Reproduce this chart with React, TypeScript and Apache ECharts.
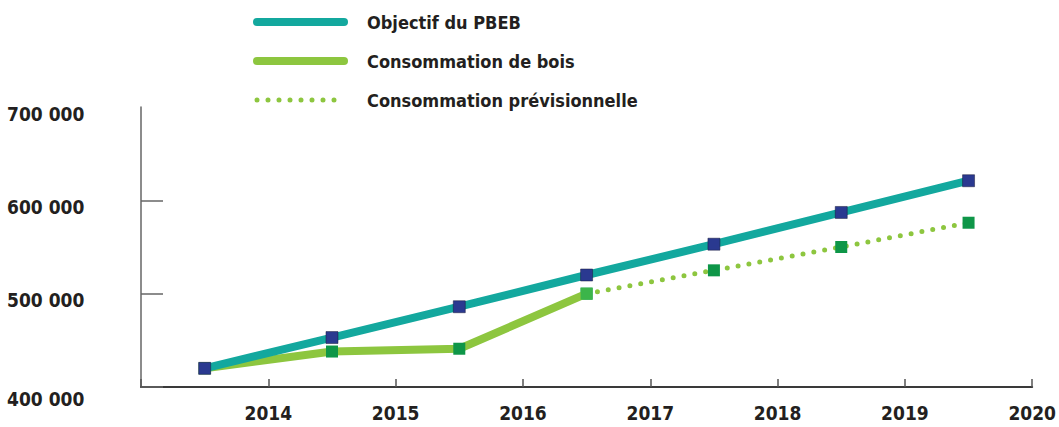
import React, { useEffect, useRef } from "react";
import * as echarts from "echarts";

const tickLabels = ["", "2014", "2015", "2016", "2017", "2018", "2019", "2020"];
const positions = [0.5, 1.5, 2.5, 3.5, 4.5, 5.5, 6.5];
const objectif = [420000, 453000, 486000, 520000, 553000, 587000, 621000];
const consommation: (number | null)[] = [420000, 438000, 441000, 500000, null, null, null];
const previsionnelle: (number | null)[] = [null, null, null, 500000, 525000, 550000, 576000];

const FONT = "'DejaVu Sans Condensed', 'Liberation Sans Narrow', sans-serif";
const TEXT = "#231f20";

export default function App() {
  const ref = useRef<HTMLDivElement>(null);
  useEffect(() => {
    const chart = echarts.init(ref.current!, undefined, { renderer: "svg" });
    const pair = (arr: (number | null)[]) => arr.map((v, i) => [positions[i], v]);
    const fmt = (v: number) => String(v).replace(/\B(?=(\d{3})+(?!\d))/g, " ");
    chart.setOption({
      animation: false,
      grid: { left: 141, right: 26, top: 107, bottom: 40 },
      legend: {
        orient: "vertical",
        left: 248,
        top: 8,
        itemWidth: 87,
        itemHeight: 10,
        itemGap: 21,
        textStyle: { fontFamily: FONT, fontWeight: "bold", fontSize: 18, color: TEXT, padding: [0, 0, 0, 18] },
        data: [
          { name: "Objectif du PBEB", itemStyle: { opacity: 0 }, lineStyle: { width: 8, cap: "round" } },
          { name: "Consommation de bois", itemStyle: { opacity: 0 }, lineStyle: { width: 8, cap: "round" } },
          {
            name: "Consommation prévisionnelle",
            itemStyle: { opacity: 0 },
            lineStyle: { width: 5, type: [0, 11], cap: "round" },
          },
        ],
      },
      xAxis: {
        type: "value",
        min: 0,
        max: 7,
        interval: 1,
        splitLine: { show: false },
        axisLine: { show: true, lineStyle: { color: "#3a3a3a", width: 2 } },
        axisTick: { show: true, inside: true, length: 8, lineStyle: { color: "#555", width: 1.5 } },
        axisLabel: {
          margin: 16,
          fontFamily: FONT,
          fontWeight: "bold",
          fontSize: 19,
          color: TEXT,
          showMaxLabel: true,
          formatter: (v: number) => tickLabels[Math.round(v)] ?? "",
        },
      },
      yAxis: {
        type: "value",
        min: 400000,
        max: 700000,
        interval: 100000,
        splitLine: { show: false },
        axisLine: { show: true, lineStyle: { color: "#666", width: 1.5 } },
        axisTick: {
          show: true,
          inside: true,
          length: 22,
          lineStyle: { color: "#666", width: 1.5 },
          customValues: [400000, 500000, 600000],
        },
        axisLabel: {
          align: "left",
          verticalAlign: "top",
          margin: 134,
          fontFamily: FONT,
          fontWeight: "bold",
          fontSize: 19,
          color: TEXT,
          formatter: (v: number) => (v === 400000 ? `{b|${fmt(v)}}` : `{a|${fmt(v)}}`),
          rich: {
            a: { fontFamily: FONT, fontWeight: "bold", fontSize: 19, color: TEXT, lineHeight: 13 },
            b: { fontFamily: FONT, fontWeight: "bold", fontSize: 19, color: TEXT, lineHeight: 24 },
          },
        },
      },
      series: [
        {
          name: "Consommation prévisionnelle",
          type: "line",
          data: pair(previsionnelle),
          symbol: "rect",
          symbolSize: 12,
          lineStyle: { color: "#8dc63f", width: 5, type: [0, 11], cap: "round" },
          itemStyle: { color: "#0e9648" },
          z: 2,
        },
        {
          name: "Consommation de bois",
          type: "line",
          data: pair(consommation).map((d, i) =>
            i === 3 ? { value: d, itemStyle: { color: "#3cb54a" } } : d
          ),
          symbol: "rect",
          symbolSize: 12,
          lineStyle: { color: "#8dc63f", width: 8 },
          itemStyle: { color: "#0e9648" },
          z: 3,
        },
        {
          name: "Objectif du PBEB",
          type: "line",
          data: pair(objectif),
          symbol: "rect",
          symbolSize: 12,
          lineStyle: { color: "#13a89e", width: 8 },
          itemStyle: { color: "#2a3990", borderColor: "#1a1a3a", borderWidth: 0.5 },
          z: 4,
        },
      ],
    });
    return () => chart.dispose();
  }, []);
  return (
    <div
      ref={ref}
      style={{ position: "absolute", left: 0, top: 0, width: 1059, height: 427 }}
    />
  );
}
